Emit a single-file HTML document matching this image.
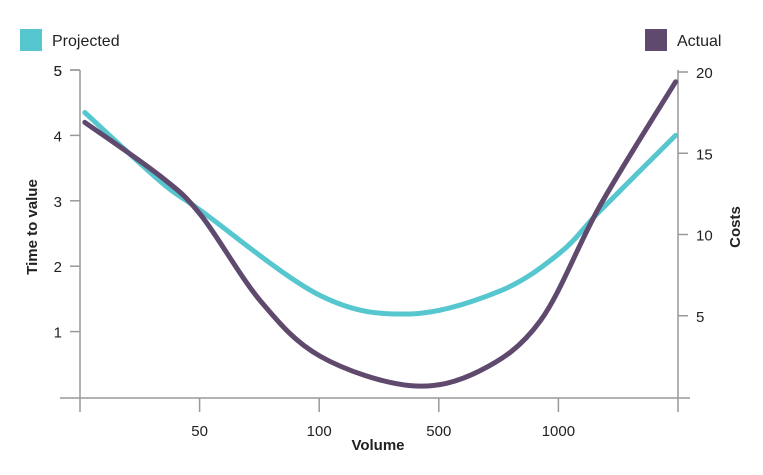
<!DOCTYPE html>
<html><head><meta charset="utf-8"><style>
body{margin:0;background:#fff;font-family:"Liberation Sans",sans-serif;}
svg text{font-family:"Liberation Sans",sans-serif;fill:#222;}
</style></head><body>
<svg width="763" height="470" viewBox="0 0 763 470">
<g id="axes"></g><g id="series"></g>
<g><rect x="20" y="29" width="22" height="22" fill="#56c6cf"/><text x="52" y="46" font-size="16">Projected</text></g>
<g><rect x="645" y="29" width="22" height="22" fill="#5f4a6e"/><text x="677" y="46" font-size="16">Actual</text></g>
<text transform="translate(37,227) rotate(-90)" text-anchor="middle" font-size="15" font-weight="bold">Time to value</text>
<text transform="translate(740,227) rotate(-90)" text-anchor="middle" font-size="15" font-weight="bold">Costs</text>
<text x="378" y="450" text-anchor="middle" font-size="15" font-weight="bold">Volume</text>
</svg>
<script>
const categories=["","50","100","500","1000",""];
const leftTicks=[1,2,3,4,5];
const rightTicks=[5,10,15,20];
const projX=[0.04,0.67,1.01,2.01,2.76,3.51,4.01,4.35,4.98];
const projY=[4.35,3.3,2.85,1.55,1.27,1.62,2.2,2.85,4.0];
const actX=[0.04,0.67,1.01,1.51,2.01,2.76,3.34,3.85,4.35,4.98];
const actY=[16.9,13.6,11.2,5.9,2.5,0.7,1.6,4.7,11.8,19.4];
const NS="http://www.w3.org/2000/svg";
const x0=80,x1=678,yb=397,yt=70;
const xs=u=>x0+u*(x1-x0)/(categories.length-1);
const yL=v=>yb-v*(yb-yt)/5;
const yR=v=>yb-v*(yb-72)/20;
const ax=document.getElementById('axes');
function line(a,b,c,d,name){const l=document.createElementNS(NS,'line');l.setAttribute('x1',a);l.setAttribute('y1',b);l.setAttribute('x2',c);l.setAttribute('y2',d);l.setAttribute('stroke','#999');l.setAttribute('stroke-width','1.5');


ax.appendChild(l);}
function text(x,y,s,anchor,name){const t=document.createElementNS(NS,'text');t.setAttribute('x',x);t.setAttribute('y',y);t.setAttribute('text-anchor',anchor);t.setAttribute('font-size','15');t.textContent=s;


ax.appendChild(t);}
line(x0,yt,x0,412,'y-axis-line');line(x1,yt,x1,412,'y2-axis-line');line(60,398,690,398,'x-axis-line');
line(70,yt,x0,yt,'y-tick');text(62,yt+6,'5','end','y-tick-label');
leftTicks.forEach(v=>{line(70,yL(v),x0,yL(v),'y-tick');text(62,yL(v)+6,String(v),'end','y-tick-label');});
rightTicks.forEach(v=>{line(x1,yR(v),x1+10,yR(v),'y2-tick');text(x1+18,yR(v)+6,String(v),'start','y2-tick-label');});
categories.forEach((c,i)=>{if(c){line(xs(i),398,xs(i),412,'x-tick');text(xs(i),436,c,'middle','x-tick-label');}});
function smooth(pts){let d=`M${pts[0][0]},${pts[0][1]}`;for(let i=0;i<pts.length-1;i++){const p0=pts[i-1]||pts[i],p1=pts[i],p2=pts[i+1],p3=pts[i+2]||p2;
d+=` C${p1[0]+(p2[0]-p0[0])/6},${p1[1]+(p2[1]-p0[1])/6} ${p2[0]-(p3[0]-p1[0])/6},${p2[1]-(p3[1]-p1[1])/6} ${p2[0]},${p2[1]}`;}return d;}
const sg=document.getElementById('series');
function draw(X,Y,yf,color,name){const p=document.createElementNS(NS,'path');p.setAttribute('d',smooth(X.map((u,i)=>[xs(u),yf(Y[i])])));p.setAttribute('fill','none');p.setAttribute('stroke',color);p.setAttribute('stroke-width','5');p.setAttribute('stroke-linecap','round');


sg.appendChild(p);}
draw(projX,projY,yL,'#56c6cf','projected-line');
draw(actX,actY,yR,'#5f4a6e','actual-line');
</script>
</body></html>
